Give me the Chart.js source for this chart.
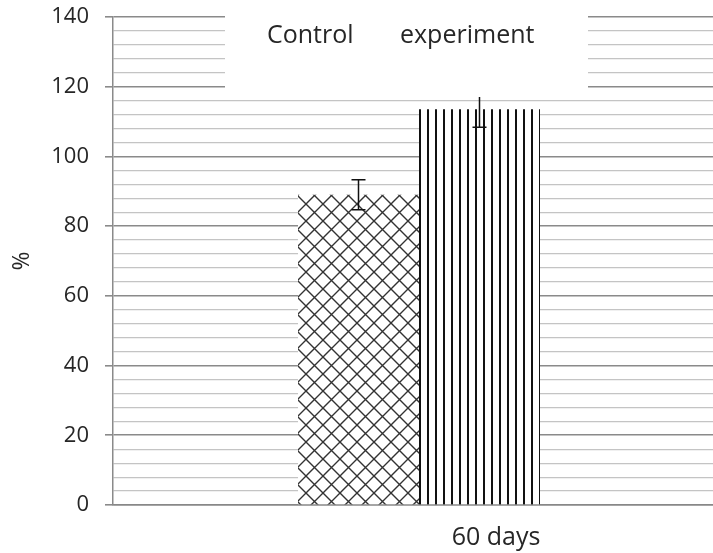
<!DOCTYPE html>
<html>
<head>
<meta charset="utf-8">
<script src="https://cdn.jsdelivr.net/npm/chart.js@4/dist/chart.umd.min.js"></script>
<style>
  html, body { margin: 0; padding: 0; background: #fff; }
  #wrap { width: 713px; height: 553px; }
</style>
</head>
<body>
<div id="wrap"><canvas id="chart"></canvas></div>
<script>
// values
const categories = ['60 days']
const controlValues = [89]
const controlErr = [4.3]
const experimentValues = [113.5]
const experimentErr = [5.1]
const yTicks = [0, 20, 40, 60, 80, 100, 120, 140]

// hatch patterns like the old spreadsheet fills
function crossHatch() {
  let c = document.createElement('canvas')
  c.width = 17; c.height = 17
  let g = c.getContext('2d')
  g.fillStyle = '#fff'
  g.fillRect(0, 0, 17, 17)
  g.strokeStyle = '#333'
  g.lineWidth = 1.4
  g.beginPath()
  g.moveTo(0, 0); g.lineTo(17, 17)
  g.moveTo(17, 0); g.lineTo(0, 17)
  g.stroke()
  return g.createPattern(c, 'repeat')
}
function verticalLines() {
  let c = document.createElement('canvas')
  c.width = 8; c.height = 8
  let g = c.getContext('2d')
  g.fillStyle = '#fff'
  g.fillRect(0, 0, 8, 8)
  g.fillStyle = '#111'
  g.fillRect(3, 0, 2, 8)
  return g.createPattern(c, 'repeat')
}

const errors = [controlErr, experimentErr]

// the plot area runs a bit past the right edge of the picture
const widenX = {
  id: 'widenX',
  afterLayout(chart) {
    const x = chart.scales.x
    x.right += 12
    x.width += 12
    x.configure()
  }
}

const errorBars = {
  id: 'errorBars',
  afterDatasetsDraw(chart) {
    const ctx = chart.ctx
    const y = chart.scales.y
    ctx.save()
    ctx.strokeStyle = '#111'
    ctx.lineWidth = 1.5
    chart.data.datasets.forEach((ds, i) => {
      chart.getDatasetMeta(i).data.forEach((bar, j) => {
        const v = ds.data[j], e = errors[i][j]
        const top = y.getPixelForValue(v + e)
        const bot = y.getPixelForValue(v - e)
        ctx.beginPath()
        ctx.moveTo(bar.x, top); ctx.lineTo(bar.x, bot)
        ctx.moveTo(bar.x - 7, top); ctx.lineTo(bar.x + 7, top)
        ctx.moveTo(bar.x - 7, bot); ctx.lineTo(bar.x + 7, bot)
        ctx.stroke()
      })
    })
    ctx.restore()
  }
}

// legend: plain white box with the series names only
const textLegend = {
  id: 'textLegend',
  afterDatasetsDraw(chart) {
    const ctx = chart.ctx
    ctx.save()
    ctx.fillStyle = '#fff'
    ctx.fillRect(225, 0, 363, 97)
    ctx.fillStyle = '#262626'
    ctx.font = '25px "Open Sans", sans-serif'
    ctx.textBaseline = 'middle'
    ctx.fillText(chart.data.datasets[0].label, 267, 36)
    ctx.fillText(chart.data.datasets[1].label, 400, 36)
    ctx.restore()
  }
}

new Chart(document.getElementById('chart'), {
  type: 'bar',
  data: {
    labels: categories,
    datasets: [
      { label: 'Control', data: controlValues, backgroundColor: crossHatch(), borderWidth: 0 },
      { label: 'experiment', data: experimentValues, backgroundColor: verticalLines(), borderWidth: 0 }
    ]
  },
  options: {
    responsive: true,
    maintainAspectRatio: false,
    animation: false,
    layout: { padding: { top: 17, right: 0, left: 0, bottom: 0 } },
    categoryPercentage: 0.3954,
    barPercentage: 1,
    plugins: {
      legend: { display: false },
      tooltip: { enabled: false }
    },
    scales: {
      x: {
        grid: { display: false },
        border: { display: true, color: '#888', width: 1.5 },
        ticks: { color: '#262626', font: { family: 'Open Sans', size: 25 }, padding: 10, labelOffset: 77 },
        afterFit(s) { s.height = 48 }
      },
      y: {
        min: 0,
        max: 140,
        ticks: {
          stepSize: 4,
          color: '#262626',
          font: { family: 'Open Sans', size: 22 },
          padding: 16,
          autoSkip: false,
          callback: v => yTicks.includes(v) ? v : ''
        },
        grid: {
          color: c => c.tick && c.tick.value % 20 === 0 ? '#8a8a8a' : '#c4c4c4',
          lineWidth: c => c.tick && c.tick.value % 20 === 0 ? 1.6 : 1.2,
          tickColor: c => c.tick && c.tick.value % 20 === 0 ? '#8a8a8a' : 'rgba(0,0,0,0)',
          tickLength: 8
        },
        border: { color: '#8a8a8a', width: 1.5 },
        title: { display: true, text: '%', color: '#262626', font: { family: 'Open Sans', size: 23 }, padding: { top: 9 } },
        afterFit(s) { s.width = 113; s.paddingTop = 0; s.paddingBottom = 0 }
      }
    }
  },
  plugins: [widenX, errorBars, textLegend]
})
</script>
</body>
</html>
